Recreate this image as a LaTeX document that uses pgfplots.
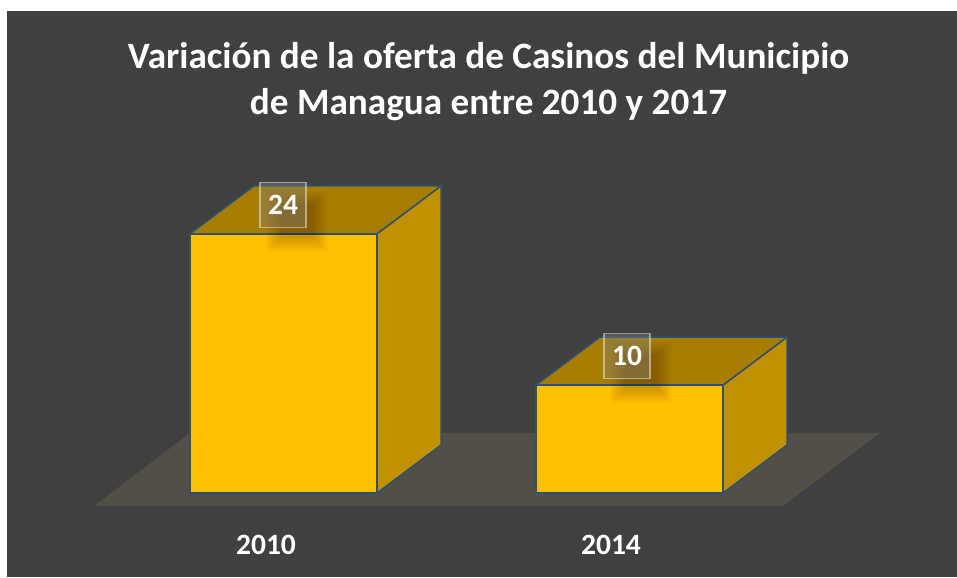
\documentclass[border=0pt]{standalone}
\usepackage{fontspec}
\setmainfont{Carlito}
\usepackage{pgfplots}
\pgfplotsset{compat=1.18}
\definecolor{panel}{HTML}{404040}
\definecolor{floorc}{HTML}{524F48}
\definecolor{front}{HTML}{FFC000}
\definecolor{topf}{HTML}{A87E00}
\definecolor{sidef}{HTML}{C29100}
\definecolor{edge}{HTML}{2F5070}
\begin{document}
\begin{tikzpicture}
\begin{axis}[
  scale only axis, width=957pt, height=577pt,
  xmin=0, xmax=957, ymin=-7.778, ymax=45.648,
  axis on top,
  axis line style={draw=none}, tick style={draw=none},
  ytick=\empty,
  xtick={266,611}, xticklabels={2010,2014},
  x tick label style={font=\fontsize{29.5}{29.5}\selectfont\bfseries, text=white, anchor=base, yshift=23pt},
  title={Variación de la oferta de Casinos del Municipio\\de Managua entre 2010 y 2017},
  title style={font=\fontsize{37.2}{46}\selectfont\bfseries, text=white, align=center,
    at={(axis description cs:0.5105,0.848)}, anchor=center},
  every axis plot/.append style={line join=miter},
]
% background panel and floor
\addplot[fill=panel, draw=none] coordinates {(7,-7.778) (957,-7.778) (957,44.63) (7,44.63)} -- cycle;
\addplot[fill=floorc, draw=none] coordinates {(94,-1.204) (783,-1.204) (880,5.556) (190,5.556)} -- cycle;
% 2010 side and top
\addplot[fill=sidef, draw=edge, line width=1.5pt] coordinates {(377,0) (441,4.44) (441,28.44) (377,24)} -- cycle;
\addplot[fill=topf, draw=edge, line width=1.5pt] coordinates {(190,24) (254,28.44) (441,28.44) (377,24)} -- cycle;
% 2014 side and top
\addplot[fill=sidef, draw=edge, line width=1.5pt] coordinates {(723,0) (787,4.44) (787,14.44) (723,10)} -- cycle;
\addplot[fill=topf, draw=edge, line width=1.5pt] coordinates {(536,10) (600,14.44) (787,14.44) (723,10)} -- cycle;
% front faces
\addplot[ybar, bar width=187, bar shift=0pt, fill=front, draw=edge, line width=1.5pt]
  coordinates {(283.5,24) (629.5,10)};
% soft shadow under the labels
\pgfplotsinvokeforeach{30,29,28,27,26,25,24,23,22,21,20,19,18,17,16,15}{
  \addplot[only marks, mark=square*, mark size=#1pt, mark options={draw=none, fill=black, opacity=0.013}]
    coordinates {(297,25.2) (641,11.2)};
}
% value labels
\addplot[only marks, mark=none, point meta=y,
  nodes near coords={\pgfmathprintnumber[assume math mode=true]{\pgfplotspointmeta}},
  every node near coord/.append style={
    font=\fontsize{29.5}{29.5}\selectfont\bfseries, text=white, anchor=center, yshift=29pt,
    minimum width=46pt, minimum height=45pt, inner sep=0pt,
    fill=gray, fill opacity=0.4, text opacity=1, draw=white, draw opacity=0.45, line width=1.2pt},
] coordinates {(283,24) (627,10)};
\end{axis}
\end{tikzpicture}
\end{document}
